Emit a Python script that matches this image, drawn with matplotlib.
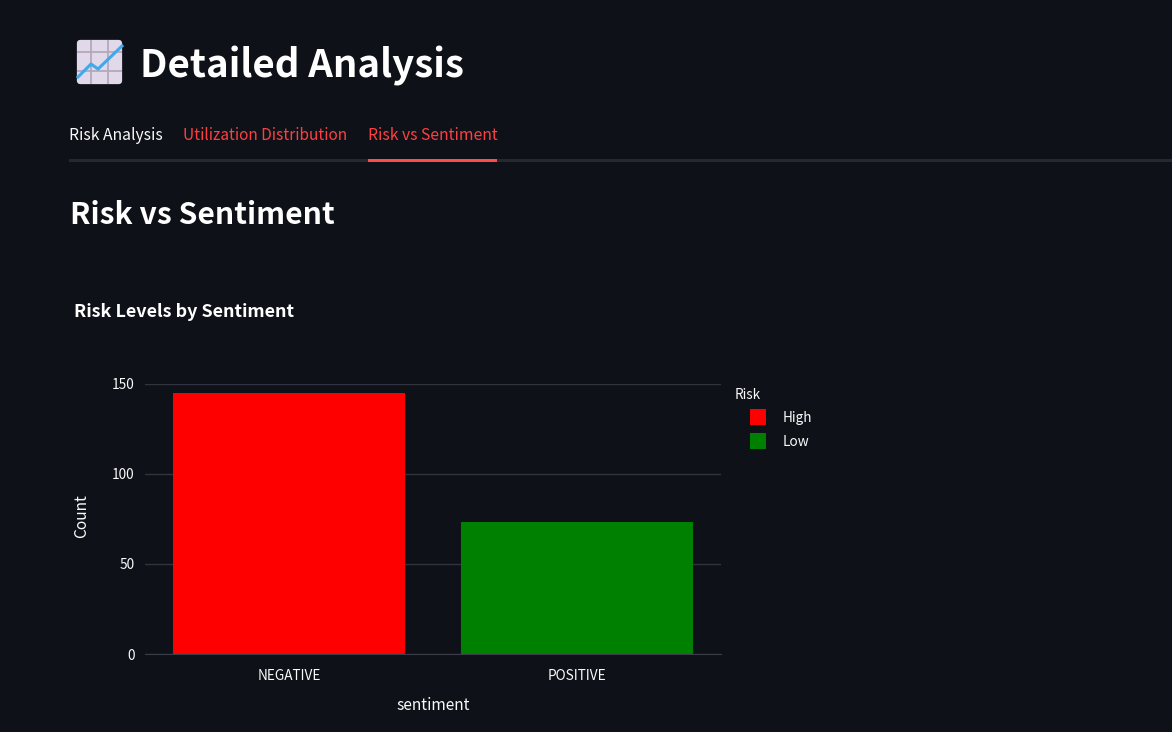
import matplotlib
matplotlib.use('Agg')
import matplotlib.pyplot as plt
from matplotlib.patches import FancyBboxPatch, Rectangle

# the latin glyphs of Noto Sans CJK are close to Source Sans
plt.rcParams['font.family'] = ['Noto Sans CJK SC', 'DejaVu Sans']

# data
sentiments = ['NEGATIVE', 'POSITIVE']
counts = [145, 73]
risk_levels = ['High', 'Low']
bar_colors = ['#ff0000', '#008000']
y_ticks = [0, 50, 100, 150]

bg = '#0e1117'
txt = '#fafafa'
W, H = 1172, 732

fig = plt.figure(figsize=(W / 100, H / 100), dpi=100, facecolor=bg)

# page layer in pixel coordinates
page = fig.add_axes([0, 0, 1, 1])
page.set_xlim(0, W)
page.set_ylim(H, 0)
page.axis('off')

# chart emoji
page.add_patch(FancyBboxPatch((80, 43), 39, 38, boxstyle='round,pad=0,rounding_size=0',
                              fc='#e1d8ea', ec='#e1d8ea', lw=4.5, joinstyle='round'))
for gx in [91, 108]:
    page.plot([gx, gx], [40, 84], color='#b3a9ba', lw=1.3, solid_capstyle='butt')
for gy in [52, 71]:
    page.plot([77, 122], [gy, gy], color='#b3a9ba', lw=1.3, solid_capstyle='butt')
page.plot([78, 91, 98, 122], [77, 64, 69, 46], color='#3fa9ec', lw=2.2)

page.text(140, 66, 'Detailed Analysis', color='white', fontsize=27.7, fontweight='bold',
          va='center', ha='left')

# tabs
page.text(69, 136, 'Risk Analysis', color=txt, fontsize=11.3, va='center')
page.text(183, 136, 'Utilization Distribution', color='#ff4040', fontsize=11.15, va='center')
page.text(368, 136, 'Risk vs Sentiment', color='#ff4040', fontsize=11.3, va='center')
page.add_patch(Rectangle((69, 159), W - 69, 3, fc='#262730', ec='none'))
page.add_patch(Rectangle((368, 159), 129, 3, fc='#ff4b4b', ec='none'))

page.text(70, 215, 'Risk vs Sentiment', color='white', fontsize=21.7, fontweight='bold',
          va='center')
page.text(74, 312, 'Risk Levels by Sentiment', color='white', fontsize=12.9, fontweight='bold',
          va='center')

# legend
page.text(735, 395, 'Risk', color=txt, fontsize=9.8, va='center')
for name, col, ly in zip(risk_levels, bar_colors, [417, 441]):
    page.add_patch(Rectangle((750, ly - 8), 16, 16, fc=col, ec='none'))
    page.text(783, ly + 1, name, color=txt, fontsize=9.8, va='center')

# chart
ax = fig.add_axes([145 / W, 1 - 654 / H, 576 / W, 270.5 / H], facecolor='none')
ax.bar(sentiments, counts, width=0.803, color=bar_colors, zorder=3)
ax.set_xlim(-0.5, 1.5)
ax.set_ylim(0, 150)
ax.set_yticks(y_ticks)
ax.grid(axis='y', color='#31333f', lw=1, zorder=0)
ax.set_axisbelow(True)
for s in ax.spines.values():
    s.set_visible(False)
ax.spines['bottom'].set_visible(True)
ax.spines['bottom'].set_color('#3a3d47')
ax.tick_params(axis='x', length=0, pad=11, colors=txt, labelsize=9.8)
ax.tick_params(axis='y', length=0, pad=7.5, colors=txt, labelsize=9.8)

page.text(82, 516, 'Count', color=txt, fontsize=11.2, rotation=90, ha='center', va='center')
page.text(433, 706, 'sentiment', color=txt, fontsize=11.2, ha='center', va='center')

fig.savefig('out.png', dpi=100, facecolor=bg)
